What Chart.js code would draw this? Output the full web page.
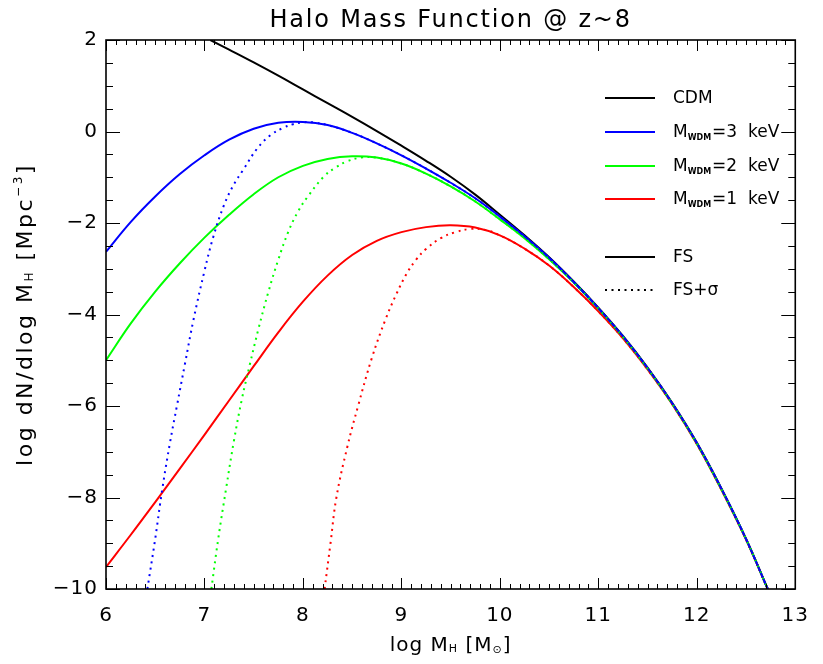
<!DOCTYPE html>
<html>
<head>
<meta charset="utf-8">
<script src="https://cdn.jsdelivr.net/npm/chart.js@4.4.1/dist/chart.umd.min.js"></script>
<style>
  html, body { margin: 0; padding: 0; background: #fff; }
  #c { display: block; }
</style>
</head>
<body>
<canvas id="c" width="823" height="664"></canvas>
<script>
// log M_H grid and log dN/dlogM values
var cdmMass = [7.06, 7.25, 7.5, 7.75, 8, 8.25, 8.5, 8.75, 9, 9.25, 9.5, 9.75, 10, 10.25, 10.5, 10.75, 11, 11.25, 11.5, 11.75, 12, 12.25, 12.5, 12.72];
var cdmDens = [2.0, 1.79, 1.51, 1.22, 0.92, 0.62, 0.32, 0.01, -0.31, -0.64, -0.99, -1.38, -1.82, -2.27, -2.75, -3.28, -3.85, -4.47, -5.16, -5.93, -6.8, -7.8, -8.9, -10.0];

var fsMass = [6, 6.25, 6.5, 6.75, 7, 7.25, 7.5, 7.75, 8, 8.25, 8.5, 8.75, 9, 9.25, 9.5, 9.75, 10, 10.25, 10.5, 10.75, 11, 11.25, 11.5, 11.75, 12, 12.25, 12.5, 12.72];
var fs3Dens = [-2.63, -1.98, -1.42, -0.93, -0.52, -0.18, 0.06, 0.19, 0.21, 0.14, -0.03, -0.26, -0.52, -0.81, -1.12, -1.46, -1.86, -2.29, -2.76, -3.29, -3.86, -4.48, -5.17, -5.94, -6.81, -7.81, -8.91, -10.0];
var fs2Dens = [-5.0, -4.2, -3.5, -2.88, -2.32, -1.82, -1.37, -1.0, -0.75, -0.6, -0.54, -0.57, -0.7, -0.92, -1.2, -1.53, -1.92, -2.33, -2.79, -3.3, -3.87, -4.49, -5.18, -5.95, -6.82, -7.82, -8.91, -10.0];
var fs1Dens = [-9.52, -8.82, -8.1, -7.37, -6.63, -5.88, -5.13, -4.39, -3.72, -3.15, -2.7, -2.39, -2.2, -2.09, -2.05, -2.1, -2.27, -2.56, -2.93, -3.4, -3.93, -4.52, -5.2, -5.96, -6.83, -7.83, -8.92, -10.0];

// FS+sigma: low-mass cut-off part, joins the FS curve above the last point
var sig3Mass = [6.42, 6.5, 6.57, 6.65, 6.72, 6.8, 6.89, 7.0, 7.09, 7.2, 7.3, 7.39, 7.54, 7.67, 7.8, 7.9, 8.0, 8.1];
var sig3Dens = [-10, -8.9, -7.84, -6.8, -6.0, -5.1, -4.1, -3.05, -2.3, -1.6, -1.15, -0.85, -0.36, -0.08, 0.08, 0.16, 0.2, 0.2];
var sig2Mass = [7.07, 7.14, 7.22, 7.3, 7.38, 7.46, 7.55, 7.65, 7.75, 7.85, 7.95, 8.05, 8.21, 8.33, 8.44, 8.59];
var sig2Dens = [-10, -8.9, -7.8, -6.75, -5.85, -5.1, -4.3, -3.5, -2.8, -2.2, -1.75, -1.42, -0.99, -0.79, -0.66, -0.57];
var sig1Mass = [8.22, 8.28, 8.34, 8.45, 8.56, 8.7, 8.84, 8.95, 9.05, 9.15, 9.25, 9.4, 9.55, 9.7, 9.85];
var sig1Dens = [-10, -9.0, -8.0, -6.9, -6.0, -4.95, -4.1, -3.55, -3.12, -2.8, -2.57, -2.33, -2.2, -2.13, -2.15];

var xTickLabels = [6, 7, 8, 9, 10, 11, 12, 13];
var yTickLabels = [-10, -8, -6, -4, -2, 0, 2];

function pts(xs, ys) {
  return xs.map(function (x, i) { return { x: x, y: ys[i] }; });
}
function withTail(xs, ys, tx, ty) {
  var p = pts(xs, ys), last = xs[xs.length - 1];
  tx.forEach(function (x, i) { if (x > last) p.push({ x: x, y: ty[i] }); });
  return p;
}

var FONT = "'DejaVu Sans', sans-serif";
var dots = [2, 4.5];

function drawRich(ctx, parts, x, y) {
  var w = 0;
  parts.forEach(function (p) { ctx.font = p.f; p.w = ctx.measureText(p.t).width; w += p.w; });
  var cx = x - w / 2;
  ctx.textBaseline = "alphabetic";
  ctx.textAlign = "left";
  parts.forEach(function (p) {
    ctx.font = p.f;
    ctx.fillText(p.t, cx, y + (p.dy || 0));
    cx += p.w;
  });
}

var spacing = {
  id: "spacing",
  beforeDraw(chart) { chart.ctx.letterSpacing = "1px"; }
};

var decor = {
  id: "decor",
  afterDraw(chart) {
    var ctx = chart.ctx, a = chart.chartArea, sx = chart.scales.x, sy = chart.scales.y;
    ctx.save();
    ctx.strokeStyle = "#000";
    ctx.fillStyle = "#000";
    // ticks on all four sides
    ctx.lineWidth = 1;
    ctx.beginPath();
    for (var i = 60; i <= 130; i++) {
      var v = i / 10, px = Math.round(sx.getPixelForValue(v)) + 0.5;
      var len = i % 10 === 0 ? 11 : 5;
      ctx.moveTo(px, a.bottom); ctx.lineTo(px, a.bottom - len);
      ctx.moveTo(px, a.top); ctx.lineTo(px, a.top + len);
    }
    for (var j = -20; j <= 4; j++) {
      var py = Math.round(sy.getPixelForValue(j / 2)) + 0.5;
      var l2 = j % 4 === 0 ? 14 : 7;
      ctx.moveTo(a.left, py); ctx.lineTo(a.left + l2, py);
      ctx.moveTo(a.right, py); ctx.lineTo(a.right - l2, py);
    }
    ctx.stroke();
    ctx.lineWidth = 1.6;
    ctx.strokeRect(a.left, a.top, a.right - a.left, a.bottom - a.top);

    // title
    ctx.letterSpacing = "1.8px";
    ctx.textAlign = "center";
    ctx.textBaseline = "alphabetic";
    ctx.font = "24px " + FONT;
    ctx.fillText("Halo Mass Function @ z~8", (a.left + a.right) / 2, 27);

    // axis titles
    ctx.letterSpacing = "1px";
    var big = "20px " + FONT, sub = "11px " + FONT;
    drawRich(ctx, [
      { t: "log M", f: big }, { t: "H", f: sub, dy: 1 },
      { t: " [M", f: big }, { t: "\u2299", f: sub, dy: 2 }, { t: "]", f: big }
    ], (a.left + a.right) / 2, 651);
    ctx.letterSpacing = "2.5px";
    var big2 = "22px " + FONT, sub2 = "12px " + FONT;
    ctx.save();
    ctx.translate(32, (a.top + a.bottom) / 2);
    ctx.rotate(-Math.PI / 2);
    drawRich(ctx, [
      { t: "log dN/dlog M", f: big2 }, { t: "H", f: sub2, dy: 1 },
      { t: " [Mpc", f: big2 }, { t: "\u22123", f: sub2, dy: -10 }, { t: "]", f: big2 }
    ], 0, 0);
    ctx.restore();
    ctx.letterSpacing = "0px";

    // legend
    var rows = [
      { y: 98, c: "#000", d: [], t: [{ t: "CDM" }] },
      { y: 132, c: "#0000ff", d: [], t: [{ t: "M" }, { t: "WDM", s: 1 }, { t: "=3  keV" }] },
      { y: 166, c: "#00ff00", d: [], t: [{ t: "M" }, { t: "WDM", s: 1 }, { t: "=2  keV" }] },
      { y: 199, c: "#ff0000", d: [], t: [{ t: "M" }, { t: "WDM", s: 1 }, { t: "=1  keV" }] },
      { y: 257, c: "#000", d: [], t: [{ t: "FS" }] },
      { y: 290, c: "#000", d: dots, t: [{ t: "FS+\u03c3" }] }
    ];
    rows.forEach(function (r) {
      ctx.strokeStyle = r.c;
      ctx.lineWidth = 2;
      ctx.setLineDash(r.d);
      ctx.beginPath();
      ctx.moveTo(605, r.y); ctx.lineTo(655, r.y);
      ctx.stroke();
      ctx.setLineDash([]);
      var cx = 673;
      ctx.textAlign = "left";
      r.t.forEach(function (p) {
        ctx.font = p.s ? "bold 8px " + FONT : "17px " + FONT;
        ctx.fillText(p.t, cx, r.y + (p.s ? 8 : 5));
        cx += ctx.measureText(p.t).width + (p.s ? 1 : 0);
      });
    });
    ctx.restore();
  }
};

function line(data, color, dash, order) {
  return {
    data: data, borderColor: color, borderWidth: 2, borderDash: dash,
    pointRadius: 0, fill: false, tension: 0.4, order: order
  };
}

new Chart(document.getElementById("c"), {
  type: "line",
  data: {
    datasets: [
      line(pts(cdmMass, cdmDens), "#000", [], 9),
      line(pts(fsMass, fs1Dens), "#ff0000", [], 6),
      line(pts(fsMass, fs2Dens), "#00ff00", [], 5),
      line(pts(fsMass, fs3Dens), "#0000ff", [], 4),
      line(withTail(sig1Mass, sig1Dens, fsMass, fs1Dens), "#ff0000", dots, 3),
      line(withTail(sig2Mass, sig2Dens, fsMass, fs2Dens), "#00ff00", dots, 2),
      line(withTail(sig3Mass, sig3Dens, fsMass, fs3Dens), "#0000ff", dots, 1)
    ]
  },
  options: {
    responsive: false,
    animation: false,
    events: [],
    layout: { padding: { left: 0, right: 18, top: 40, bottom: 0 } },
    plugins: { legend: { display: false }, tooltip: { enabled: false }, title: { display: false } },
    scales: {
      x: {
        type: "linear", min: 6, max: 13,
        afterFit: function (s) { s.height = 75; },
        afterBuildTicks: function (s) { s.ticks = xTickLabels.map(function (v) { return { value: v }; }); },
        grid: { display: false, drawTicks: false },
        border: { display: false },
        ticks: { color: "#000", padding: 15, maxRotation: 0, font: { family: FONT, size: 20 } }
      },
      y: {
        type: "linear", min: -10, max: 2,
        afterFit: function (s) { s.width = 106; },
        afterBuildTicks: function (s) { s.ticks = yTickLabels.map(function (v) { return { value: v }; }); },
        grid: { display: false, drawTicks: false },
        border: { display: false },
        ticks: {
          color: "#000", padding: 8, font: { family: FONT, size: 20 },
          callback: function (v) { return String(v).replace("-", "\u2212"); }
        }
      }
    }
  },
  plugins: [spacing, decor]
});
</script>
</body>
</html>
